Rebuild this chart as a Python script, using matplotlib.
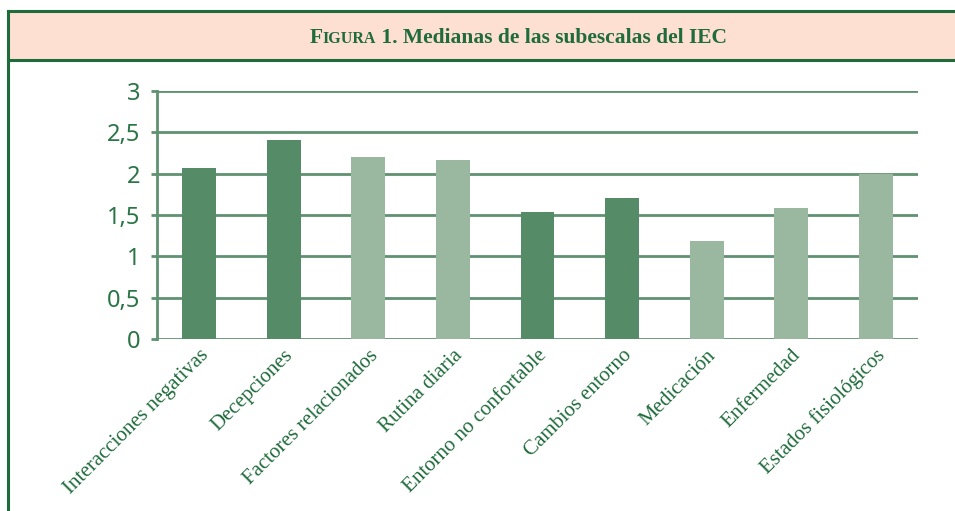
import matplotlib
matplotlib.use("Agg")
import matplotlib.pyplot as plt
from matplotlib.patches import Rectangle
from matplotlib.lines import Line2D

categorias = ["Interacciones negativas", "Decepciones", "Factores relacionados",
              "Rutina diaria", "Entorno no confortable", "Cambios entorno",
              "Medicación", "Enfermedad", "Estados fisiológicos"]
medianas = [2.07, 2.41, 2.20, 2.16, 1.54, 1.70, 1.18, 1.58, 1.99]
oscuro = [True, True, False, False, True, True, False, False, False]
yticks = [0, 0.5, 1, 1.5, 2, 2.5, 3]
ytick_labels = ["0", "0,5", "1", "1,5", "2", "2,5", "3"]

verde_osc = "#1f6b3b"
verde_grid = "#5f9270"
c_osc = "#558b66"
c_cla = "#9ab89f"
melocoton = "#fde0d2"

W, H = 955, 511
fig = plt.figure(figsize=(W / 100, H / 100), dpi=100)

# marco y banda del título
fig.patches.append(Rectangle((8 / W, (H - 60) / H), 1, 49 / H, transform=fig.transFigure,
                             facecolor=melocoton, edgecolor="none", zorder=0))
for xs, ys in [([8, 955], [11, 11]), ([8, 955], [60, 60]), ([8, 8], [11, 511])]:
    fig.lines.append(Line2D([x / W for x in xs], [1 - y / H for y in ys],
                            transform=fig.transFigure, color=verde_osc, lw=2.2))

# título con versalitas en "Figura"
partes = [("F", 15.5), ("IGURA", 11.5), (" 1. Medianas de las subescalas del IEC", 15.5)]
renderer = fig.canvas.get_renderer()
textos = []
x = 0
for s, size in partes:
    t = fig.text(x, 1 - 43 / H, s, fontsize=size, fontweight="bold", family="Liberation Serif",
                 color=verde_osc, va="baseline", ha="left")
    w = t.get_window_extent(renderer).width / W
    textos.append((t, w))
    x += w
x0 = 518 / W - x / 2
for t, w in textos:
    t.set_x(x0)
    x0 += w

ax = fig.add_axes([157 / W, 1 - 339 / H, 761 / W, 248 / H])
pos = list(range(len(categorias)))
colores = [c_osc if o else c_cla for o in oscuro]
ax.bar(pos, medianas, width=0.4, color=colores, zorder=3)
ax.set_xlim(-0.5, len(categorias) - 0.5)
ax.set_ylim(0, 3)
ax.set_yticks(yticks)
ax.set_yticklabels(ytick_labels, family="Noto Sans", fontsize=17, color="#2a7545")
ax.yaxis.grid(True, color=verde_grid, lw=2.0, zorder=1)
ax.set_axisbelow(True)
for s in ["top", "right", "bottom"]:
    ax.spines[s].set_visible(False)
ax.spines["left"].set_color(verde_grid)
ax.spines["left"].set_linewidth(2.0)
ax.tick_params(axis="y", length=4, width=2.0, color=verde_grid, pad=8)
ax.tick_params(axis="x", length=0, pad=5)
ax.set_xticks(pos)
ax.set_xticklabels(categorias, rotation=45, ha="right", va="top", rotation_mode="anchor",
                   family="Liberation Serif", fontsize=15, color=verde_osc)

fig.savefig("out.png", dpi=100)
